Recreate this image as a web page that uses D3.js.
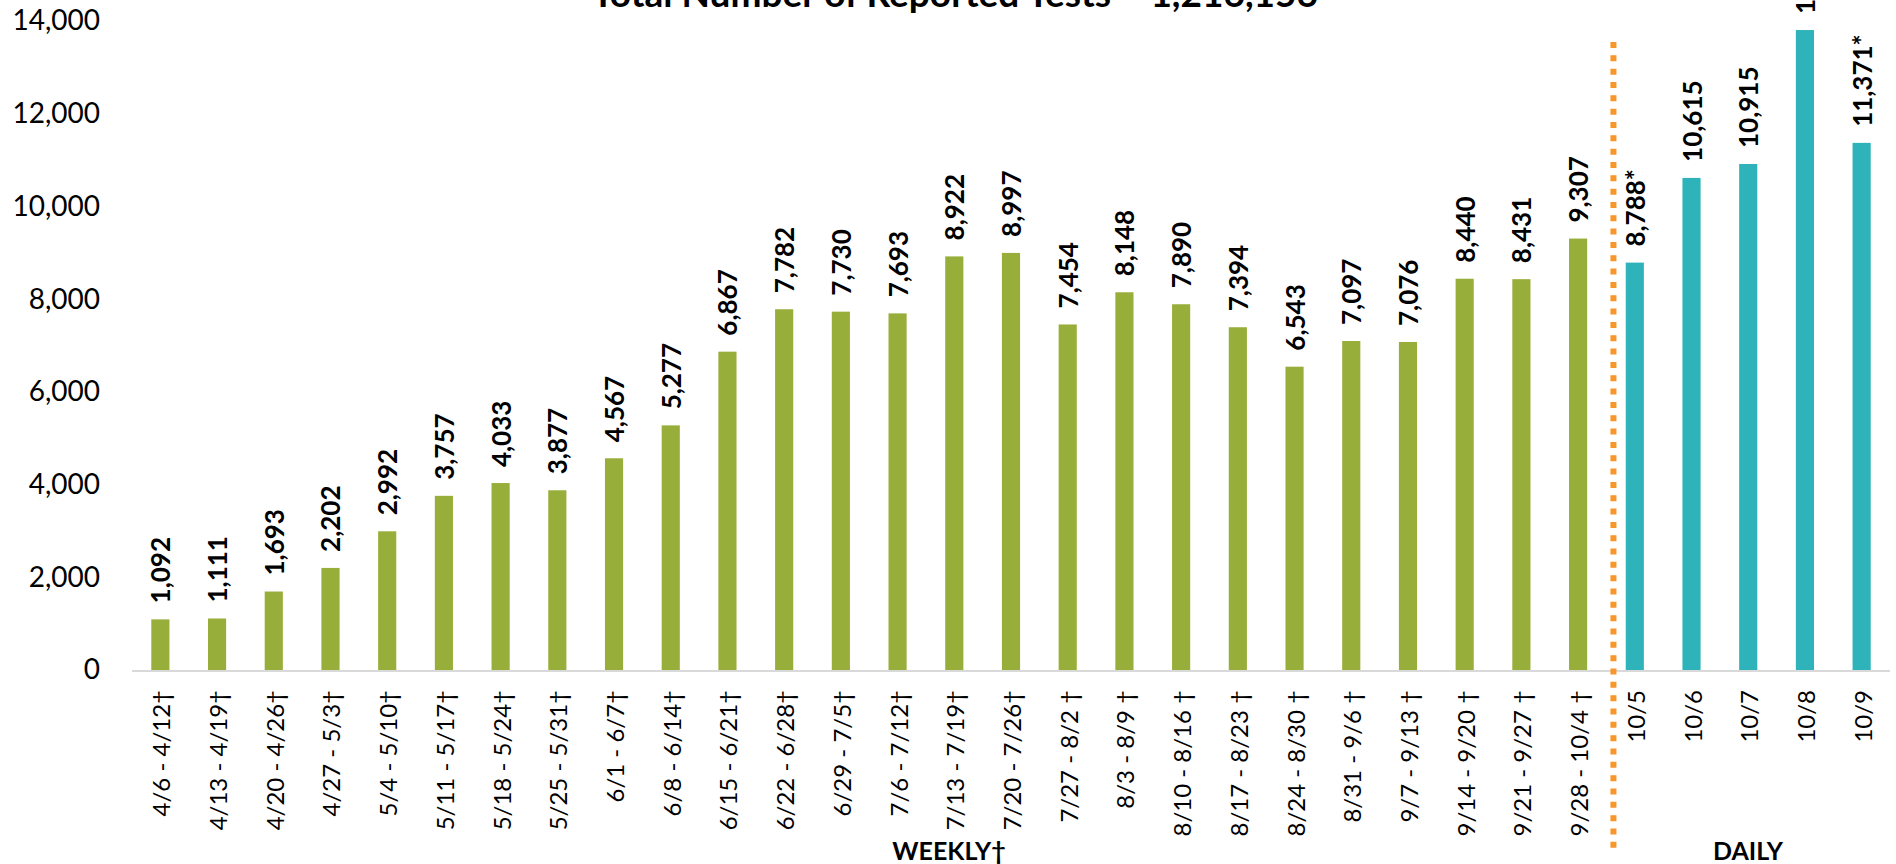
<!DOCTYPE html>
<html>
<head>
<meta charset="utf-8">
<script src="https://cdn.jsdelivr.net/npm/d3@7/dist/d3.min.js"></script>
<style>
    html, body { margin: 0; padding: 0; background: #fff; }
    svg { display: block; }
    text { font-family: Lato, "Open Sans", sans-serif; fill: #000; }
</style>
</head>
<body>
<div id="chart"></div>
<script>
// 数据
const weeklyCategories = [
    '4/6 - 4/12†', '4/13 - 4/19†', '4/20 - 4/26†', '4/27 - 5/3†', '5/4 - 5/10†',
    '5/11 - 5/17†', '5/18 - 5/24†', '5/25 - 5/31†', '6/1 - 6/7†', '6/8 - 6/14†',
    '6/15 - 6/21†', '6/22 - 6/28†', '6/29 - 7/5†', '7/6 - 7/12†', '7/13 - 7/19†',
    '7/20 - 7/26†', '7/27 - 8/2 †', '8/3 - 8/9 †', '8/10 - 8/16 †', '8/17 - 8/23 †',
    '8/24 - 8/30 †', '8/31 - 9/6 †', '9/7 - 9/13 †', '9/14 - 9/20 †', '9/21 - 9/27 †',
    '9/28 - 10/4 †'
];
const weeklyValues = [
    1092, 1111, 1693, 2202, 2992, 3757, 4033, 3877, 4567, 5277,
    6867, 7782, 7730, 7693, 8922, 8997, 7454, 8148, 7890, 7394,
    6543, 7097, 7076, 8440, 8431, 9307
];
const dailyCategories = ['10/5', '10/6', '10/7', '10/8', '10/9'];
const dailyValues = [8788, 10615, 10915, 13805, 11371];
const dailySuffix = ['*', '', '', '', '*'];
const yTicks = [0, 2000, 4000, 6000, 8000, 10000, 12000, 14000];
const titleText = 'Total Number of Reported Tests = 1,216,156';

const width = 1896, height = 864;
const weeklyColor = '#97AF3A';
const dailyColor = '#2EB3BA';
const fmt = d3.format(',');

const bars = weeklyCategories.map((c, i) => ({
    cat: c, value: weeklyValues[i], label: fmt(weeklyValues[i]), color: weeklyColor
})).concat(dailyCategories.map((c, i) => ({
    cat: c, value: dailyValues[i], label: fmt(dailyValues[i]) + dailySuffix[i], color: dailyColor
})));

const svg = d3.select('#chart').append('svg')
    .attr('width', width)
    .attr('height', height);

const x = d3.scaleBand()
    .domain(bars.map(d => d.cat))
    .range([132, 1890])
    .paddingInner(0.68)
    .paddingOuter(0.34);

const y = d3.scaleLinear()
    .domain([0, 14000])
    .range([670, 21]);

// 标题（顶部被截断）
svg.append('text')
    .attr('x', 955)
    .attr('y', 7)
    .attr('text-anchor', 'middle')
    .attr('font-size', '37px')
    .attr('font-weight', 'bold')
    .text(titleText);

// Y轴
const yAxis = svg.append('g')
    .attr('transform', 'translate(132,0)')
    .call(d3.axisLeft(y).tickValues(yTicks).tickFormat(fmt).tickSize(0).tickPadding(32));
yAxis.select('.domain').remove();
yAxis.selectAll('text')
    .attr('font-family', 'Lato, sans-serif')
    .attr('font-size', '28px')
    .attr('fill', '#000');

// 基线
svg.append('line')
    .attr('x1', 132)
    .attr('x2', 1890)
    .attr('y1', y(0) + 1)
    .attr('y2', y(0) + 1)
    .attr('stroke', '#d9d9d9')
    .attr('stroke-width', 2);

// 柱子
svg.selectAll('.bar')
    .data(bars)
    .enter()
    .append('rect')
    .attr('class', 'bar')
    .attr('x', d => x(d.cat))
    .attr('y', d => y(d.value))
    .attr('width', x.bandwidth())
    .attr('height', d => y(0) - y(d.value))
    .attr('fill', d => d.color);

const cx = d => x(d.cat) + x.bandwidth() / 2;

// 数值标签
svg.selectAll('.value-label')
    .data(bars)
    .enter()
    .append('text')
    .attr('class', 'value-label')
    .attr('transform', d => `translate(${cx(d) + 10}, ${y(d.value) - 16}) rotate(-90)`)
    .attr('font-size', '26px')
    .attr('font-weight', 'bold')
    .text(d => d.label);

// 类别标签
svg.selectAll('.cat-label')
    .data(bars)
    .enter()
    .append('text')
    .attr('class', 'cat-label')
    .attr('transform', d => `translate(${cx(d) + 10}, 690) rotate(-90)`)
    .attr('text-anchor', 'end')
    .attr('font-size', '24px')
    .text(d => d.cat);

// 分隔虚线
const lastWeekly = bars[weeklyCategories.length - 1];
const firstDaily = bars[weeklyCategories.length];
const divX = (cx(lastWeekly) + cx(firstDaily)) / 2 + 7;
svg.append('line')
    .attr('x1', divX)
    .attr('x2', divX)
    .attr('y1', 42)
    .attr('y2', 852)
    .attr('stroke', '#F7962A')
    .attr('stroke-width', 6)
    .attr('stroke-dasharray', '6 7.33');

// 分组标题
svg.append('text')
    .attr('x', 949)
    .attr('y', 860)
    .attr('text-anchor', 'middle')
    .attr('font-size', '25px')
    .attr('font-weight', 'bold')
    .text('WEEKLY†');

svg.append('text')
    .attr('x', 1748)
    .attr('y', 860)
    .attr('text-anchor', 'middle')
    .attr('font-size', '25px')
    .attr('font-weight', 'bold')
    .text('DAILY');
</script>
</body>
</html>
